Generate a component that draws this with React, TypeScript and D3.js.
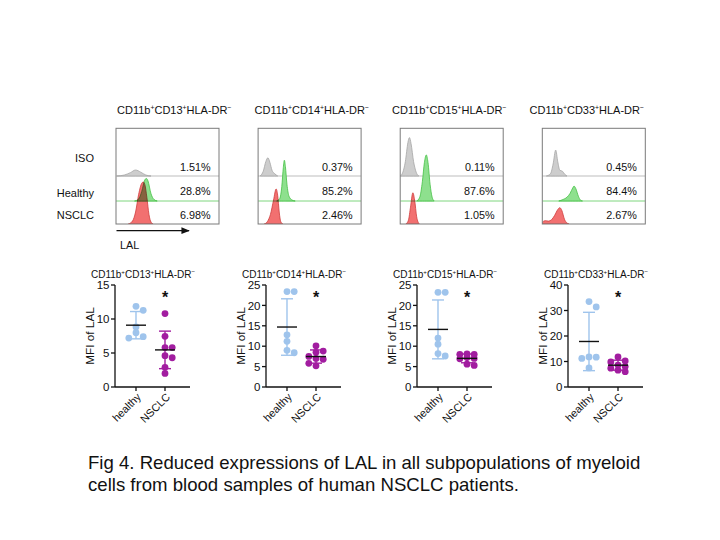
import React from "react";
import * as d3 from "d3";

// ---------- data ----------
const markers = ["CD13", "CD14", "CD15", "CD33"];
const histRowLabels = ["ISO", "Healthy", "NSCLC"];
const isoPercent = ["1.51%", "0.37%", "0.11%", "0.45%"];
const healthyPercent = ["28.8%", "85.2%", "87.6%", "84.4%"];
const nsclcPercent = ["6.98%", "2.46%", "1.05%", "2.67%"];

// histogram outlines: [LAL position 0-100 across plot, count 0-100]
const isoCurves: number[][][] = [
  [[1, 0], [8, 2], [14, 7], [19, 12.5], [24, 8], [29, 2], [34, 0]],
  [[2, 0], [5, 10], [7.5, 30], [9.5, 38], [11.5, 28], [13.5, 12], [16, 5], [19, 0]],
  [[0, 0], [2, 5], [5, 30], [7.5, 70], [9, 80], [10.5, 68], [13, 30], [15.5, 8], [18, 0]],
  [[4, 0], [8, 5], [10.5, 25], [13, 54], [15, 30], [17, 12], [19.5, 10], [22, 3], [24, 0]],
];
const healthyCurves: number[][][] = [
  [[18, 0], [22, 4], [25, 20], [28, 44], [29.5, 47], [31, 42], [34, 15], [37, 3], [40, 0]],
  [[18, 0], [21, 5], [23, 30], [24.5, 70], [25.5, 85], [26.5, 72], [28, 35], [30, 10], [33, 2], [36, 0]],
  [[16, 0], [19, 8], [21.5, 40], [23.5, 80], [25.3, 96], [27, 80], [29, 35], [31, 8], [33, 0]],
  [[16, 0], [20, 3], [24, 8], [27, 16], [29.5, 27], [30.8, 31], [32.5, 26], [35, 10], [37, 2], [39, 0]],
];
const nsclcCurves: number[][][] = [
  [[12, 0], [16, 6], [19, 25], [22, 62], [25, 85], [26.5, 87.5], [28, 82], [30, 55], [32, 20], [34, 4], [36, 0]],
  [[6, 0], [9, 5], [12, 20], [15, 50], [17.5, 73], [19, 60], [20.5, 25], [22, 5], [24, 0]],
  [[5.5, 0], [8, 8], [10, 35], [12.3, 65], [14, 50], [16, 15], [18.5, 0]],
  [[0, 4], [3, 7], [6, 6], [9, 9], [12, 18], [15, 30], [17, 34], [19, 28], [21.5, 10], [24, 2], [26, 0]],
];

const groups = ["healthy", "NSCLC"];
const healthyMFI = [
  [11.86, 11.27, 8.82, 7.99, 7.4, 7.2],
  [23.4, 23.4, 12.8, 11.2, 9.0, 8.4],
  [23.2, 23.2, 12.0, 10.5, 8.2, 7.6],
  [33.5, 31.4, 11.8, 11.7, 11.2, 7.5],
];
const nsclcMFI = [
  [10.8, 7.45, 5.8, 5.8, 4.6, 4.3, 2.9, 2.0],
  [10.1, 8.8, 8.5, 7.5, 7.0, 6.8, 5.8, 5.2],
  [8.1, 8.0, 8.0, 7.2, 7.0, 6.9, 5.6, 5.3],
  [11.8, 10.2, 9.8, 8.6, 8.0, 7.4, 6.6, 6.0],
];
const yMax = [15, 25, 25, 40];
const yStep = [5, 5, 5, 10];
const significance = ["*", "*", "*", "*"];
const yLabel = "MFI of LAL";
const axisLabelLAL = "LAL";
const caption = [
  "Fig 4. Reduced expressions of LAL in all subpopulations of myeloid",
  "cells from blood samples of human NSCLC patients.",
];

// ---------- style ----------
const FONT = "'Liberation Sans', Arial, Helvetica, sans-serif";
const HEALTHY = "#9fc4ec";
const NSCLC = "#a21da0";

function Title({ x, y, size, marker }: { x: number; y: number; size: number; marker: string }) {
  const sup = size * 0.62;
  const up = size * 0.38;
  return (
    <text x={x} y={y} fontSize={size} textAnchor="middle" fill="#111">
      CD11b
      <tspan fontSize={sup} dy={-up}>+</tspan>
      <tspan dy={up}>{marker}</tspan>
      <tspan fontSize={sup} dy={-up}>+</tspan>
      <tspan dy={up}>HLA-DR</tspan>
      <tspan fontSize={sup} dy={-up}>−</tspan>
    </text>
  );
}

function swarm(values: number[], y: (v: number) => number, r: number, step: number) {
  const placed: { x: number; y: number }[] = [];
  const order = values.map((_, i) => i).sort((a, b) => values[b] - values[a]);
  const out: { x: number; y: number }[] = new Array(values.length);
  const lanes = [0, 1, -1];
  for (const i of order) {
    const py = y(values[i]);
    let best = 0;
    let bestD = -1;
    let chosen: number | null = null;
    for (const k of lanes) {
      const px = k * step;
      const d = placed.length ? Math.min(...placed.map((p) => Math.hypot(p.x - px, p.y - py))) : Infinity;
      if (d >= 2 * r - 1.2) {
        chosen = px;
        break;
      }
      if (d > bestD) {
        bestD = d;
        best = px;
      }
    }
    const px = chosen === null ? best : chosen;
    placed.push({ x: px, y: py });
    out[i] = { x: px, y: py };
  }
  return out;
}

function Histogram({ i }: { i: number }) {
  const boxX = 116 + i * 142.1;
  const boxW = 103;
  const top = 128.3;
  const bottom = 224;
  const bases = [176, 201, bottom];
  const x = d3.scaleLinear().domain([0, 100]).range([boxX, boxX + boxW]);
  const h = d3.scaleLinear().domain([0, 100]).range([0, 48]);
  const mk = (base: number) =>
    d3
      .area<number[]>()
      .x((d) => x(d[0]))
      .y0(base)
      .y1((d) => base - h(d[1]))
      .curve(d3.curveMonotoneX);
  const clipId = `hclip${i}`;
  const pct = [isoPercent[i], healthyPercent[i], nsclcPercent[i]];
  const textY = [171, 195, 219];
  return (
    <g>
      <defs>
        <clipPath id={clipId}>
          <rect x={boxX} y={top} width={boxW} height={bottom - top} />
        </clipPath>
      </defs>
      <Title x={174.25 + i * 137.5} y={114} size={11} marker={markers[i]} />
      <g clipPath={`url(#${clipId})`}>
        <line x1={boxX} x2={boxX + boxW} y1={bases[0]} y2={bases[0]} stroke="#bdbdbd" strokeWidth={1} />
        <path d={mk(bases[0])(isoCurves[i]) || ""} fill="#cdcdcd" stroke="#a6a6a6" strokeWidth={0.8} />
        <line x1={boxX} x2={boxX + boxW} y1={bases[1]} y2={bases[1]} stroke="#7fd67f" strokeWidth={1} />
        <path d={mk(bases[1])(healthyCurves[i]) || ""} fill="#8ee08e" stroke="#45c045" strokeWidth={0.8} />
        <path
          d={mk(bases[2])(nsclcCurves[i]) || ""}
          fill="#f27070"
          stroke="#cf3c3c"
          strokeWidth={0.8}
          style={{ mixBlendMode: "multiply" }}
        />
      </g>
      <rect x={boxX} y={top} width={boxW} height={bottom - top} fill="none" stroke="#7a7a7a" strokeWidth={1} />
      {pct.map((p, k) => (
        <text key={k} x={boxX + boxW - 8.5} y={textY[k]} fontSize={10.8} textAnchor="end" fill="#111">
          {p}
        </text>
      ))}
    </g>
  );
}

function Scatter({ i }: { i: number }) {
  const ax = 115 + i * 151;
  const y = d3.scaleLinear().domain([0, yMax[i]]).range([387, 285]);
  const x = d3.scalePoint<string>().domain(groups).range([ax + 21, ax + 50]).padding(0);
  const ticks = d3.range(0, yMax[i] + 0.001, yStep[i]);
  const r = 3.4;
  const sets = [healthyMFI[i], nsclcMFI[i]];
  const colors = [HEALTHY, NSCLC];
  return (
    <g>
      <Title x={ax + 28} y={278} size={10} marker={markers[i]} />
      <text
        transform={`translate(${ax - 21.5},${y(yMax[i] / 2)}) rotate(-90)`}
        textAnchor="middle"
        fontSize={11.8}
        fill="#111"
      >
        {yLabel}
      </text>
      <line x1={ax} x2={ax} y1={y(yMax[i])} y2={y(0)} stroke="#111" strokeWidth={1.3} />
      {ticks.map((t) => (
        <g key={t}>
          <line x1={ax - 4} x2={ax} y1={y(t)} y2={y(t)} stroke="#111" strokeWidth={1.3} />
          <text x={ax - 5.5} y={y(t)} dy="0.36em" textAnchor="end" fontSize={11.5} fill="#111">
            {t}
          </text>
        </g>
      ))}
      <line x1={ax} x2={ax + 75} y1={y(0)} y2={y(0)} stroke="#111" strokeWidth={1.3} />
      {groups.map((g) => (
        <g key={g}>
          <line x1={x(g)} x2={x(g)} y1={y(0)} y2={y(0) + 4} stroke="#111" strokeWidth={1.3} />
          <text
            transform={`translate(${(x(g) as number) + 3},${y(0) + 8}) rotate(-45)`}
            textAnchor="end"
            dy="0.35em"
            fontSize={10.8}
            fill="#111"
          >
            {g}
          </text>
        </g>
      ))}
      {sets.map((vals, gi) => {
        const cx = x(groups[gi]) as number;
        const m = d3.mean(vals) as number;
        const sd = d3.deviation(vals) as number;
        const pts = swarm(vals, y, r, 7.2);
        return (
          <g key={gi}>
            {pts.map((p, k) => (
              <circle key={k} cx={cx + p.x} cy={p.y} r={r} fill={colors[gi]} />
            ))}
            <line x1={cx} x2={cx} y1={y(m + sd)} y2={y(m - sd)} stroke={colors[gi]} strokeWidth={1.4} />
            <line x1={cx - 6} x2={cx + 6} y1={y(m + sd)} y2={y(m + sd)} stroke={colors[gi]} strokeWidth={1.4} />
            <line x1={cx - 6} x2={cx + 6} y1={y(m - sd)} y2={y(m - sd)} stroke={colors[gi]} strokeWidth={1.4} />
            <line x1={cx - 10} x2={cx + 10} y1={y(m)} y2={y(m)} stroke="#111" strokeWidth={1.4} />
          </g>
        );
      })}
      <text x={x(groups[1])} y={303} textAnchor="middle" fontSize={16} fontWeight="bold" fill="#111">
        {significance[i]}
      </text>
    </g>
  );
}

export default function App() {
  const rowY = [162, 197, 219];
  return (
    <svg
      width={720}
      height={540}
      viewBox="0 0 720 540"
      style={{ position: "absolute", left: 0, top: 0, background: "#fff" }}
      fontFamily={FONT}
    >
      <rect x={0} y={0} width={720} height={540} fill="#fff" />
      {histRowLabels.map((l, k) => (
        <text key={l} x={94} y={rowY[k]} textAnchor="end" fontSize={11} fill="#111">
          {l}
        </text>
      ))}
      {markers.map((_, i) => (
        <Histogram key={i} i={i} />
      ))}
      <defs>
        <marker id="arrowHead" viewBox="0 0 10 10" refX="9" refY="5" markerWidth="7" markerHeight="7" orient="auto">
          <path d="M0,1 L10,5 L0,9 z" fill="#111" />
        </marker>
      </defs>
      <line x1={116.5} x2={189} y1={230.7} y2={230.7} stroke="#111" strokeWidth={1.2} markerEnd="url(#arrowHead)" />
      <text x={120} y={249} fontSize={10.8} fill="#111">
        {axisLabelLAL}
      </text>
      {markers.map((_, i) => (
        <Scatter key={i} i={i} />
      ))}
      {caption.map((c, k) => (
        <text key={k} x={88} y={469 + k * 21.5} fontSize={18.6} fill="#111">
          {c}
        </text>
      ))}
    </svg>
  );
}
